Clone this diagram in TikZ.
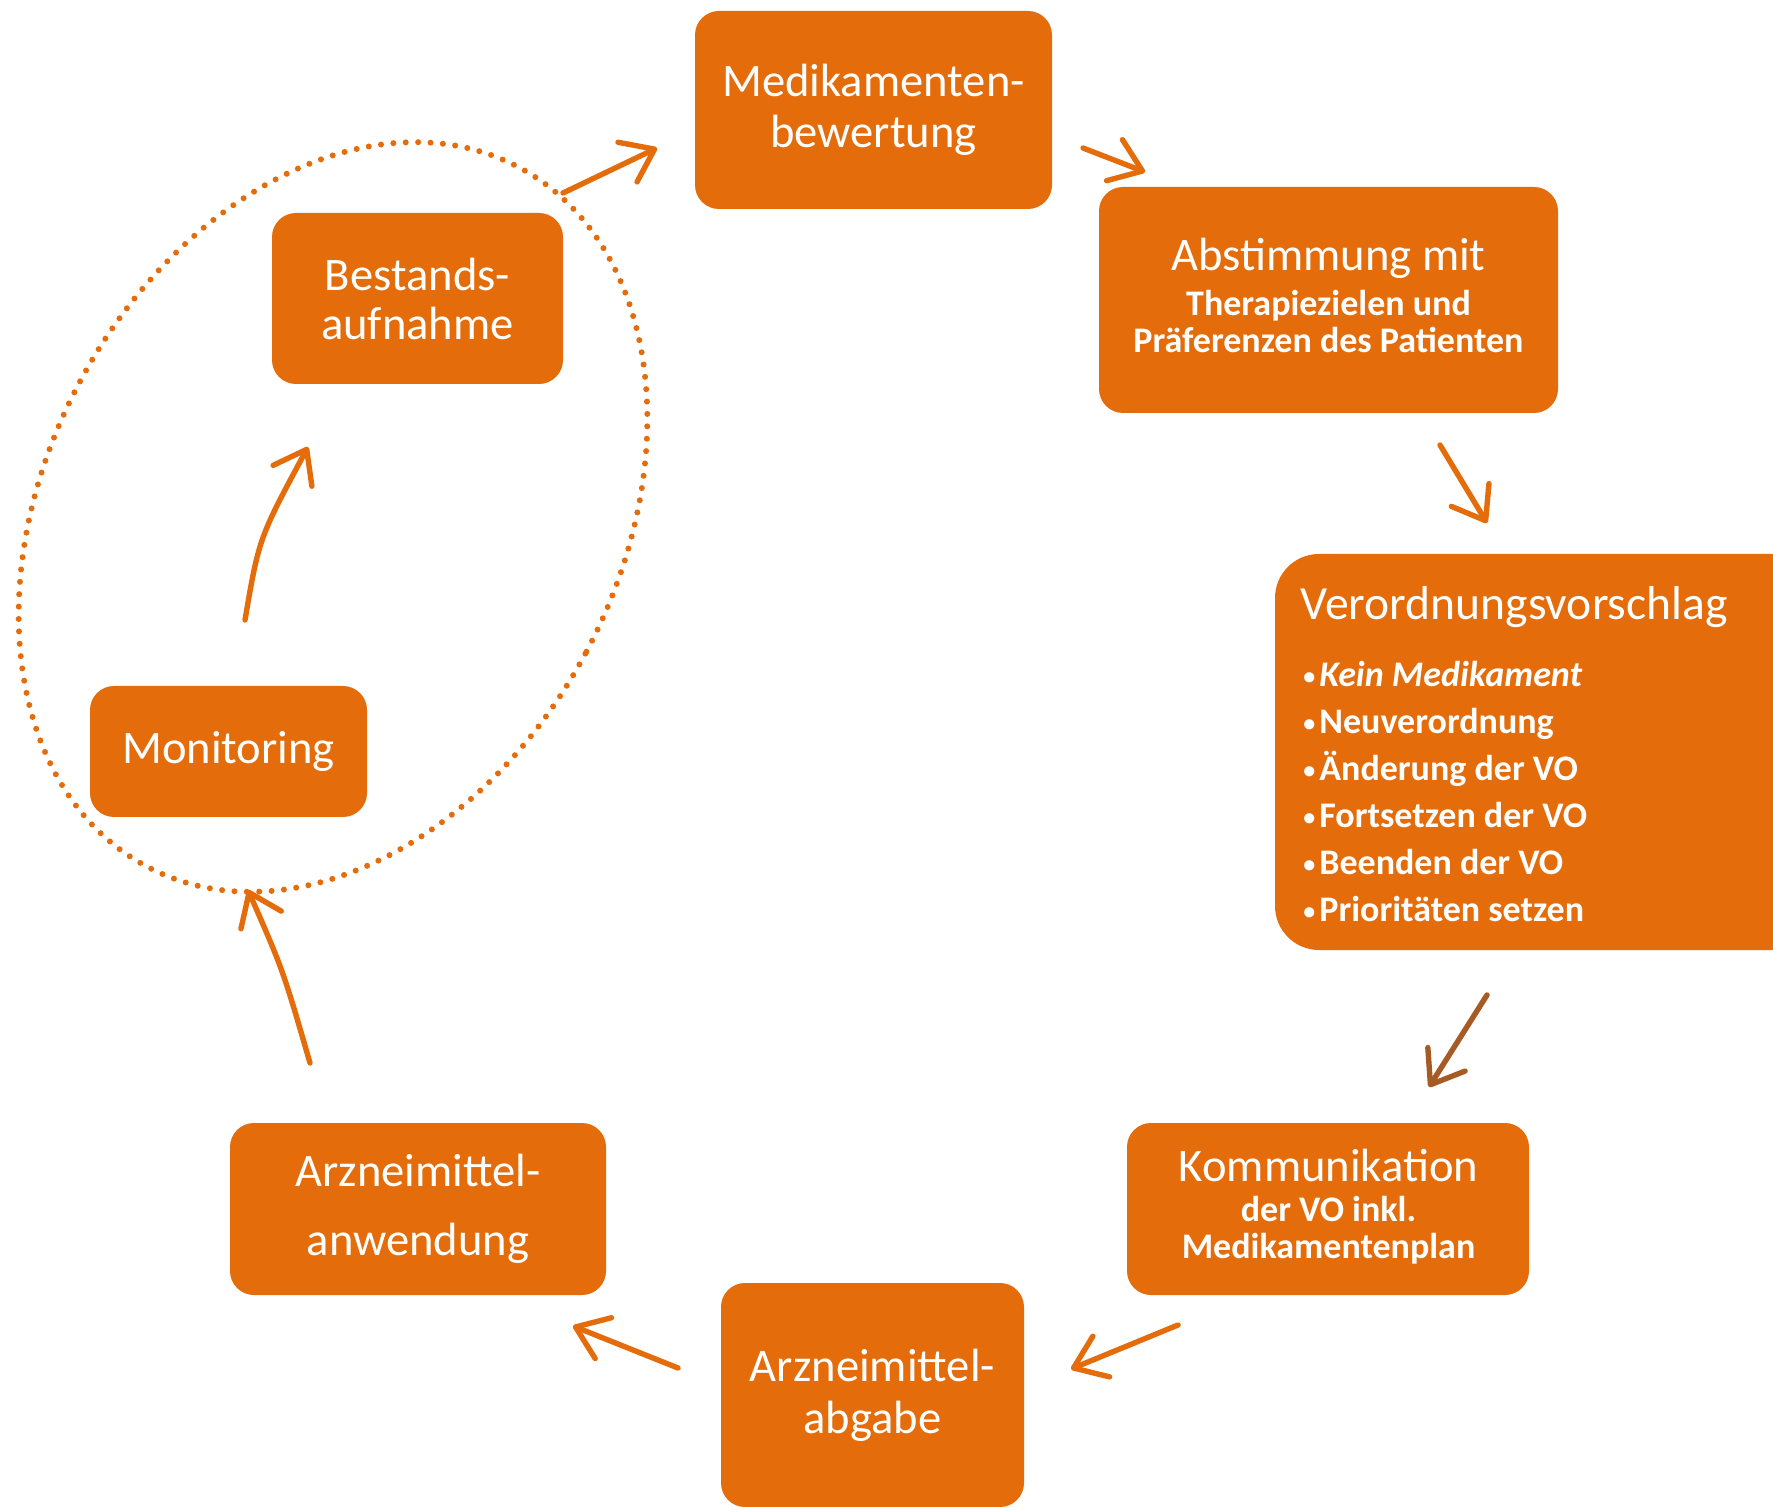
\documentclass[tikz,border=0pt]{standalone}
\usepackage{fontspec}
\setmainfont{Carlito}
\usetikzlibrary{arrows.meta}
\definecolor{boxor}{HTML}{E46C0A}
\definecolor{arrdark}{HTML}{A65A24}
\newcommand\smbul{{\fontsize{12}{12}\selectfont\raisebox{1.2pt}{•}}\kern2pt}
\tikzset{
  box/.style={rectangle, rounded corners=12pt, fill=boxor, draw=none, inner sep=0pt},
  boxtxt/.style={text=white, align=center, inner sep=0pt},
  titletxt/.style={boxtxt, font=\fontsize{23.3}{25.5}\selectfont},
  subtxt/.style={boxtxt, font=\fontsize{18}{18.5}\selectfont\bfseries},
  arr/.style={draw=boxor, line width=2.7pt, line cap=round,
    -{Straight Barb[length=15pt,width=22pt,round]}},
  dotline/.style={draw=boxor, line width=3pt, line cap=round, dash pattern=on 0pt off 6.2pt},
}
\begin{document}
\begin{tikzpicture}[x=0.5pt,y=-0.5pt]
\useasboundingbox (0,0) rectangle (1773,1507);
\clip (0,0) rectangle (1773,1507);
\fill[white] (0,0) rectangle (1773,1507);

% dotted ellipse around Monitoring and Bestandsaufnahme
\coordinate (ellc) at (333,517);
\draw[dotline, rotate around={-28:(ellc)}] (ellc) ellipse [x radius=143.5pt, y radius=198pt];

% boxes
\node[box, titletxt, minimum width=178.5pt, minimum height=99pt] (medi) at (873.5,110) {Medikamenten-\\bewertung};

\node[box, minimum width=229.5pt, minimum height=113pt] (abst) at (1328.5,300) {};
\node[titletxt] (absttitle) at (1328.5,258) {Abstimmung mit};
\node[subtxt] (abstsub) at (1328.5,322) {Therapiezielen und\\Präferenzen des Patienten};

\node[box, rounded corners=22pt, minimum width=270pt, minimum height=198pt] (vero) at (1545,752) {};
\node[titletxt, anchor=west, font=\fontsize{23.8}{25.5}\selectfont] (verotitle) at (1300,607) {Verordnungsvorschlag};
\node[boxtxt, anchor=west, align=left, font=\fontsize{18}{23.5}\selectfont\bfseries] (verolist) at (1303,792)
  {\smbul{\itshape Kein Medikament}\\\smbul Neuverordnung\\\smbul Änderung der VO\\\smbul Fortsetzen der VO\\\smbul Beenden der VO\\\smbul Prioritäten setzen};

\node[box, minimum width=201pt, minimum height=86pt] (komm) at (1328,1209) {};
\node[titletxt] (kommtitle) at (1328.5,1165) {Kommunikation};
\node[subtxt] (kommsub) at (1328.5,1230) {der VO inkl.\\Medikamentenplan};

\node[box, titletxt, font=\fontsize{23.3}{26}\selectfont, minimum width=151.5pt, minimum height=112pt] (abga) at (872.5,1395) {Arzneimittel-\\abgabe};

\node[box, titletxt, font=\fontsize{23.3}{34.5}\selectfont, minimum width=188pt, minimum height=86pt] (anwe) at (418,1209) {Arzneimittel-\\anwendung};

\node[box, titletxt, minimum width=138.5pt, minimum height=65.5pt] (moni) at (228.5,751.5) {Monitoring};

\node[box, titletxt, font=\fontsize{23.3}{24.5}\selectfont, minimum width=145.5pt, minimum height=85.5pt] (best) at (417.5,298.5) {Bestands-\\aufnahme};

% arrow end points
\coordinate (a1s) at (563,193);  \coordinate (a1e) at (657,148);
\coordinate (a2s) at (1083,148); \coordinate (a2e) at (1145,172);
\coordinate (a3s) at (1440,445); \coordinate (a3e) at (1487,523);
\coordinate (a4s) at (1487,995); \coordinate (a4e) at (1429,1087);
\coordinate (a5s) at (1178,1325); \coordinate (a5e) at (1071,1369);
\coordinate (a6s) at (678,1368); \coordinate (a6e) at (573,1326);
\coordinate (a7s) at (310,1063); \coordinate (a7e) at (248,890);
\coordinate (a7c) at (283,970);
\coordinate (a8s) at (245,620);  \coordinate (a8e) at (308,447);
\coordinate (a8c) at (259,538);

\draw[arr] (a1s) -- (a1e);
\draw[arr] (a2s) -- (a2e);
\draw[arr] (a3s) -- (a3e);
\draw[arr, draw=arrdark] (a4s) -- (a4e);
\draw[arr] (a5s) -- (a5e);
\draw[arr] (a6s) -- (a6e);
\draw[arr] (a7s) .. controls (a7c) .. (a7e);
\draw[arr] (a8s) .. controls (a8c) .. (a8e);
\end{tikzpicture}
\end{document}
